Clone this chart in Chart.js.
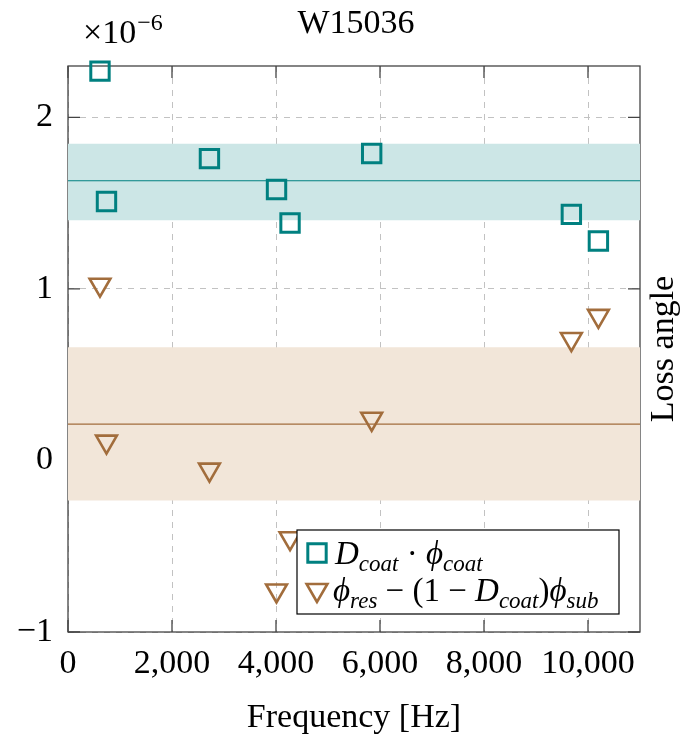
<!DOCTYPE html>
<html>
<head>
<meta charset="utf-8">
<script src="https://cdn.jsdelivr.net/npm/chart.js@4.4.1/dist/chart.umd.min.js"></script>
<style>
html,body{margin:0;padding:0;background:#fff}
#wrap{width:683px;height:738px}
</style>
</head>
<body>
<div id="wrap"><canvas id="chart" width="683" height="738"></canvas></div>
<script>
// data (loss angles in units of 1e-6)
const freqs = [615, 740, 2720, 4010, 4270, 5840, 9680, 10200];
const coatLoss = [2.27, 1.51, 1.76, 1.58, 1.385, 1.79, 1.435, 1.28];
const residLoss = [1.025, 0.11, -0.053, -0.758, -0.453, 0.243, 0.708, 0.843];
const coatBand = [1.40, 1.631, 1.846];   // low, mean, high
const residBand = [-0.233, 0.212, 0.66];
const xTicks = [0, 2000, 4000, 6000, 8000, 10000];
const yTicks = [-1, 0, 1, 2];
const xRange = [0, 11000];
const yRange = [-1, 2.3];

const TEAL = '#008080', TEAL_FILL = '#cce6e6';
const BROWN = '#a26d3c', BROWN_FILL = '#f2e6d9';
const SERIF = '"Liberation Serif", "DejaVu Serif", serif';
const tickFont = {family: SERIF, size: 34};

const pts = ys => freqs.map((f, i) => ({x: f, y: ys[i]}));
const flat = y => xRange.map(x => ({x, y}));
const bandSets = (band, line, fill) => [
  {data: flat(band[0]), borderColor: 'rgba(0,0,0,0)', borderWidth: 0, pointRadius: 0, fill: false, order: 3},
  {data: flat(band[2]), borderColor: 'rgba(0,0,0,0)', borderWidth: 0, pointRadius: 0, fill: '-1', backgroundColor: fill, order: 3},
  {data: flat(band[1]), borderColor: line, borderWidth: 1.2, pointRadius: 0, fill: false, order: 2}
];

// frame + inward tick marks (drawn before datasets so the bands cover them like in pgfplots)
const framePlugin = {
  id: 'frame',
  beforeDatasetsDraw(chart) {
    const {ctx, chartArea: a, scales: {x, y}} = chart;
    ctx.save();
    ctx.strokeStyle = '#444';
    ctx.lineWidth = 1.3;
    ctx.strokeRect(a.left, a.top, a.right - a.left, a.bottom - a.top);
    ctx.beginPath();
    xTicks.forEach(v => {
      const px = x.getPixelForValue(v);
      ctx.moveTo(px, a.bottom); ctx.lineTo(px, a.bottom - 12);
      ctx.moveTo(px, a.top); ctx.lineTo(px, a.top + 12);
    });
    yTicks.forEach(v => {
      const py = y.getPixelForValue(v);
      ctx.moveTo(a.left, py); ctx.lineTo(a.left + 12, py);
      ctx.moveTo(a.right, py); ctx.lineTo(a.right - 12, py);
    });
    ctx.stroke();
    ctx.restore();
  }
};

function drawMath(ctx, parts, x, y) {
  parts.forEach(([txt, kind]) => {
    if (kind === 's') ctx.font = `italic 23px ${SERIF}`;
    else if (kind === 'i') ctx.font = `italic 33px ${SERIF}`;
    else ctx.font = `33px ${SERIF}`;
    const dy = kind === 's' ? 7 : 0;
    ctx.fillText(txt, x, y + dy);
    x += ctx.measureText(txt).width;
  });
}

const textPlugin = {
  id: 'texts',
  afterDatasetsDraw(chart) {
    const {ctx, chartArea: a} = chart;
    ctx.save();
    ctx.fillStyle = '#000';
    ctx.textBaseline = 'alphabetic';

    // title
    ctx.textAlign = 'center';
    ctx.font = `34px ${SERIF}`;
    ctx.fillText('W15036', (a.left + a.right) / 2 + 2, 33);

    // exponent marker
    ctx.textAlign = 'left';
    const ex = a.left + 15;
    ctx.fillText('×10', ex, 43);
    const ew = ctx.measureText('×10').width;
    ctx.font = `24px ${SERIF}`;
    ctx.fillText('−6', ex + ew + 1, 30);

    // y label on the right, reading upwards
    ctx.save();
    ctx.translate(673, (a.top + a.bottom) / 2);
    ctx.rotate(-Math.PI / 2);
    ctx.textAlign = 'center';
    ctx.font = `34px ${SERIF}`;
    ctx.fillText('Loss angle', 0, 0);
    ctx.restore();

    // legend
    const lw = 322, lh = 84;
    const lx = a.right - 21 - lw, ly = a.bottom - 18 - lh;
    ctx.fillStyle = '#fff';
    ctx.fillRect(lx, ly, lw, lh);
    ctx.strokeStyle = '#000';
    ctx.lineWidth = 1.2;
    ctx.strokeRect(lx, ly, lw, lh);

    ctx.strokeStyle = TEAL;
    ctx.lineWidth = 3;
    Chart.helpers.drawPoint(ctx, {pointStyle: 'rect', radius: 13, rotation: 0, borderWidth: 3}, lx + 20, ly + 23);
    ctx.strokeStyle = BROWN;
    ctx.lineWidth = 2.6;
    Chart.helpers.drawPoint(ctx, {pointStyle: 'triangle', radius: 12, rotation: 180, borderWidth: 2.6}, lx + 20, ly + 60);

    ctx.fillStyle = '#000';
    drawMath(ctx, [['D', 'i'], ['coat', 's'], [' · ', 'r'], ['ϕ', 'i'], ['coat', 's']], lx + 38, ly + 34);
    drawMath(ctx, [['ϕ', 'i'], ['res', 's'], [' − (1 − ', 'r'], ['D', 'i'], ['coat', 's'], [')', 'r'], ['ϕ', 'i'], ['sub', 's']], lx + 36, ly + 71);
    ctx.restore();
  }
};

new Chart(document.getElementById('chart'), {
  type: 'line',
  data: {
    datasets: [
      {data: pts(coatLoss), showLine: false, pointStyle: 'rect', pointRadius: 13, pointBorderWidth: 3,
       pointBorderColor: TEAL, pointBackgroundColor: 'rgba(0,0,0,0)', clip: false, order: 0},
      {data: pts(residLoss), showLine: false, pointStyle: 'triangle', pointRotation: 180, pointRadius: 12, pointBorderWidth: 2.6,
       pointBorderColor: BROWN, pointBackgroundColor: 'rgba(0,0,0,0)', clip: false, order: 1},
      ...bandSets(coatBand, TEAL, TEAL_FILL),
      ...bandSets(residBand, BROWN, BROWN_FILL)
    ]
  },
  options: {
    responsive: false,
    animation: false,
    events: [],
    layout: {padding: {top: 66, right: 43, left: 0, bottom: 0}},
    plugins: {legend: {display: false}, tooltip: {enabled: false}, title: {display: false}},
    scales: {
      x: {
        type: 'linear', min: xRange[0], max: xRange[1],
        afterBuildTicks: s => { s.ticks = xTicks.map(v => ({value: v})); },
        afterFit: s => { s.height = 106; },
        ticks: {font: tickFont, color: '#000', padding: 12, maxRotation: 0, autoSkip: false,
                callback: v => v.toLocaleString('en-US')},
        grid: {color: '#c2c2c2', lineWidth: 1, drawTicks: false},
        border: {display: false, dash: [6, 6]},
        title: {display: true, text: 'Frequency [Hz]', font: tickFont, color: '#000', padding: {top: 0, bottom: 0}}
      },
      y: {
        type: 'linear', min: yRange[0], max: yRange[1],
        afterBuildTicks: s => { s.ticks = yTicks.map(v => ({value: v})); },
        afterFit: s => { s.width = 68; },
        ticks: {font: tickFont, color: '#000', padding: 15, autoSkip: false,
                callback: v => (v < 0 ? '−' + Math.abs(v) : String(v))},
        grid: {color: '#c2c2c2', lineWidth: 1, drawTicks: false},
        border: {display: false, dash: [6, 6]}
      }
    }
  },
  plugins: [framePlugin, textPlugin]
});
</script>
</body>
</html>
